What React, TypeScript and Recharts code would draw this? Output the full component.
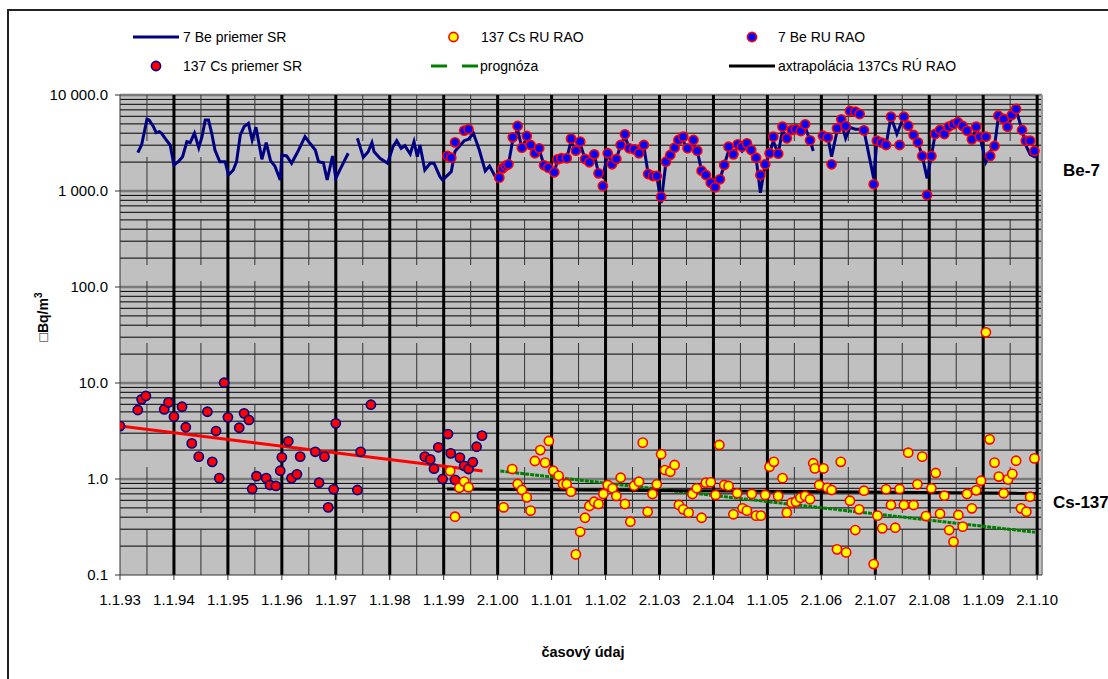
import React from 'react';
import { ComposedChart, Line, Scatter, XAxis, YAxis, CartesianGrid } from 'recharts';

const FONT = '"Liberation Sans", Arial, sans-serif';

// axis ticks
const yearTicks = [1993, 1994, 1995, 1996, 1997, 1998, 1999, 2000, 2001, 2002, 2003, 2004, 2005, 2006, 2007, 2008, 2009, 2010];
const yearLabels = ['1.1.93', '1.1.94', '1.1.95', '1.1.96', '1.1.97', '1.1.98', '1.1.99', '2.1.00', '1.1.01', '1.1.02', '2.1.03', '2.1.04', '1.1.05', '2.1.06', '2.1.07', '2.1.08', '1.1.09', '2.1.10'];
const valueTicks = [0.1, 1, 10, 100, 1000, 10000];
const valueLabels = ['0.1', '1.0', '10.0', '100.0', '1 000.0', '10 000.0'];

// 7 Be priemer SR (monthly average, line)
const beAvgSR: [number, number | null][] = [
  [1993.33, 2506], [1993.40, 3015], [1993.50, 5585], [1993.54, 5495], [1993.62, 4677], [1993.67, 4048], [1993.73, 4150], [1993.77, 3990], [1993.85, 3459], [1993.93, 3015],
  [1994.00, 1866], [1994.08, 2018], [1994.16, 2276], [1994.24, 3265], [1994.30, 3186], [1994.38, 3990], [1994.46, 2825], [1994.52, 3680], [1994.58, 5495], [1994.64, 5495], [1994.70, 3990], [1994.76, 2673], [1994.85, 2018], [1994.95, 2018],
  [1995.01, 1468], [1995.10, 1655], [1995.16, 2018], [1995.23, 3831], [1995.30, 4677], [1995.38, 5070], [1995.45, 3396], [1995.52, 4613], [1995.63, 2138], [1995.71, 3186], [1995.79, 2070], [1995.87, 1820], [1995.97, 1303],
  [1996.00, 2371], [1996.09, 2317], [1996.18, 1945], [1996.28, 2471], [1996.43, 3680], [1996.52, 3141], [1996.62, 2673], [1996.68, 2018], [1996.77, 1972], [1996.84, 1303], [1996.94, 2317],
  [1997.00, 1355], [1997.08, 1683], [1997.23, 2471], [1997.31, null], [1997.40, 3540], [1997.51, 2244], [1997.60, 2565], [1997.67, 3186], [1997.71, 2565], [1997.82, 2193], [1997.96, 1945],
  [1998.06, 2891], [1998.13, 3342], [1998.21, 2786], [1998.28, 2965], [1998.38, 2427], [1998.45, 3265], [1998.51, 2276], [1998.56, 3015], [1998.65, 1655], [1998.75, 1945], [1998.82, 1945], [1998.93, 1409], [1998.98, 1303],
  [1999.14, 1589], [1999.21, 2600], [1999.38, 3342], [1999.46, 3459], [1999.55, 3990], [1999.66, 2673], [1999.77, 1616], [1999.85, 1820], [1999.95, 1433],
  [2000.03, 1324], [2000.09, 1723], [2000.15, 1835], [2000.20, 1897], [2000.28, 3400], [2000.37, 4300], [2000.45, 2825], [2000.54, 3600], [2000.61, 3015], [2000.69, 2472], [2000.77, 2700], [2000.86, 1852], [2000.94, 1700],
  [2001.05, 1566], [2001.11, 2100], [2001.18, 2193], [2001.28, 2193], [2001.36, 3300], [2001.45, 2630], [2001.53, 3100], [2001.62, 2154], [2001.70, 1991], [2001.79, 2411], [2001.87, 1528], [2001.95, 1400],
  [2002.04, 2472], [2002.12, 1897], [2002.20, 2154], [2002.28, 3015], [2002.36, 3700], [2002.44, 2786], [2002.53, 2717], [2002.62, 2472], [2002.71, 2900], [2002.79, 1503], [2002.88, 1433], [2002.95, 1433],
  [2003.03, 750], [2003.12, 2018], [2003.20, 2371], [2003.28, 2825], [2003.35, 3398], [2003.44, 3300], [2003.52, 2786], [2003.63, 3100], [2003.70, 2630], [2003.78, 1627], [2003.86, 1468], [2003.95, 1220],
  [2004.03, 1093], [2004.12, 1324], [2004.20, 1866], [2004.28, 2600], [2004.37, 2411], [2004.45, 2900], [2004.53, 2600], [2004.62, 3000], [2004.70, 2673], [2004.79, 2223], [2004.87, 960], [2004.96, 1897],
  [2005.04, 2472], [2005.11, 3300], [2005.20, 2447], [2005.28, 4300], [2005.36, 3540], [2005.45, 4100], [2005.53, 4200], [2005.62, 4000], [2005.70, 4600], [2005.79, 3375], [2005.85, 2610], [2005.92, null],
  [2006.00, 3900], [2006.03, 3767], [2006.12, 3624], [2006.19, 2277], [2006.29, 4200], [2006.37, 5200], [2006.45, 3540], [2006.53, 4600], [2006.63, 4400], [2006.71, 4400], [2006.79, 4285], [2006.97, 1355],
  [2007.03, 3342], [2007.12, 3186], [2007.20, 3015], [2007.29, 5943], [2007.40, 3926], [2007.53, 5943], [2007.61, 4786], [2007.71, 3831], [2007.79, 3215], [2007.87, 2317], [2007.96, 1355],
  [2008.04, 2317], [2008.11, 3926], [2008.20, 4317], [2008.28, 3926], [2008.36, 4677], [2008.45, 4955], [2008.53, 5200], [2008.62, 4753], [2008.70, 4250], [2008.79, 3453], [2008.87, 4500], [2008.94, 3680],
  [2009.05, 2018], [2009.13, 2600], [2009.21, 2943], [2009.28, 5800], [2009.38, 5623], [2009.45, 4677], [2009.53, 5800], [2009.61, 7000], [2009.72, 4317], [2009.79, 3000], [2009.87, 2400], [2009.95, 2277], [2010.00, 2300],
];

// 7 Be RU RAO (points)
const beRuRao: [number, number][] = [
  [1999.07, 2317], [1999.14, 2223], [1999.21, 3215], [1999.38, 4250], [1999.46, 4395],
  [2000.03, 1376], [2000.09, 1723], [2000.15, 1835], [2000.20, 1897], [2000.28, 3624], [2000.37, 4753], [2000.45, 2825], [2000.54, 3741], [2000.61, 3015], [2000.69, 2472], [2000.77, 2786], [2000.86, 1852], [2000.94, 1749],
  [2001.05, 1566], [2001.11, 2138], [2001.18, 2193], [2001.28, 2193], [2001.36, 3508], [2001.45, 2630], [2001.53, 3265], [2001.62, 2154], [2001.70, 1991], [2001.79, 2411], [2001.87, 1528], [2001.95, 1127],
  [2002.04, 2472], [2002.12, 1897], [2002.20, 2154], [2002.28, 3015], [2002.36, 3896], [2002.44, 2786], [2002.53, 2717], [2002.62, 2472], [2002.71, 3015], [2002.79, 1503], [2002.88, 1433], [2002.95, 1433],
  [2003.03, 872], [2003.12, 2018], [2003.20, 2371], [2003.28, 2825], [2003.35, 3398], [2003.44, 3680], [2003.52, 2786], [2003.63, 3398], [2003.70, 2630], [2003.78, 1627], [2003.86, 1468], [2003.95, 1220],
  [2004.03, 1093], [2004.12, 1324], [2004.20, 1866], [2004.28, 2893], [2004.37, 2411], [2004.45, 3065], [2004.53, 2893], [2004.62, 3139], [2004.70, 2673], [2004.79, 2223], [2004.87, 1468], [2004.96, 1897],
  [2005.04, 2472], [2005.11, 3680], [2005.20, 2447], [2005.28, 4677], [2005.36, 3540], [2005.45, 4317], [2005.53, 4395], [2005.62, 4217], [2005.70, 4955], [2005.79, 3375],
  [2006.03, 3767], [2006.12, 3624], [2006.19, 1897], [2006.29, 4498], [2006.37, 5585], [2006.45, 4753], [2006.53, 6810], [2006.63, 6700], [2006.71, 6340], [2006.79, 4285], [2006.97, 1175],
  [2007.03, 3342], [2007.12, 3186], [2007.20, 3015], [2007.29, 5943], [2007.45, 3015], [2007.53, 5943], [2007.61, 4786], [2007.71, 3831], [2007.79, 3215], [2007.87, 2317], [2007.96, 908],
  [2008.04, 2317], [2008.11, 3926], [2008.20, 4317], [2008.28, 3926], [2008.36, 4677], [2008.45, 4955], [2008.53, 5200], [2008.62, 4753], [2008.70, 4250], [2008.79, 3453], [2008.87, 4677], [2008.94, 3680],
  [2009.05, 3680], [2009.13, 2317], [2009.21, 2943], [2009.28, 6085], [2009.38, 5623], [2009.45, 4677], [2009.53, 6190], [2009.61, 7145], [2009.72, 4317], [2009.79, 3342], [2009.87, 3342], [2009.95, 2610],
];

// 137 Cs priemer SR (points)
const csAvgSR: [number, number][] = [
  [1993.00, 3.56], [1993.33, 5.23], [1993.40, 6.76], [1993.48, 7.32], [1993.82, 5.32], [1993.90, 6.29],
  [1994.00, 4.46], [1994.15, 5.66], [1994.22, 3.46], [1994.33, 2.35], [1994.46, 1.71], [1994.62, 5.02], [1994.71, 1.51], [1994.78, 3.16], [1994.84, 1.02], [1994.93, 10.07],
  [1995.00, 4.39], [1995.21, 3.42], [1995.30, 4.83], [1995.39, 4.12], [1995.45, 0.787], [1995.53, 1.07], [1995.71, 1.02], [1995.78, 0.866], [1995.89, 0.846], [1995.97, 1.22],
  [1996.00, 1.68], [1996.12, 2.47], [1996.18, 1.02], [1996.28, 1.12], [1996.34, 1.71], [1996.62, 1.92], [1996.69, 0.915], [1996.79, 1.71], [1996.86, 0.507], [1996.96, 0.781],
  [1997.00, 3.8], [1997.40, 0.768], [1997.46, 1.92], [1997.65, 5.94],
  [1998.65, 1.71], [1998.75, 1.6], [1998.82, 1.28], [1998.90, 2.14], [1998.98, 1.0],
  [1999.08, 2.94], [1999.13, 1.85], [1999.21, 0.98], [1999.30, 1.67], [1999.38, 1.37], [1999.46, 1.27], [1999.54, 1.5], [1999.61, 2.17], [1999.71, 2.83],
];

// 137 Cs RU RAO (points)
const csRuRao: [number, number][] = [
  [1999.12, 1.21], [1999.21, 0.405], [1999.29, 0.81], [1999.38, 0.94], [1999.46, 0.82],
  [2000.11, 0.507], [2000.27, 1.27], [2000.37, 0.887], [2000.45, 0.768], [2000.54, 0.644], [2000.61, 0.468], [2000.69, 1.54], [2000.79, 2.0], [2000.88, 1.48], [2000.95, 2.49],
  [2001.03, 1.22], [2001.13, 1.08], [2001.21, 0.887], [2001.28, 0.887], [2001.36, 0.738], [2001.45, 0.164], [2001.53, 0.282], [2001.62, 0.395], [2001.70, 0.523], [2001.79, 0.58], [2001.87, 0.549], [2001.96, 0.698],
  [2002.04, 0.866], [2002.13, 0.8], [2002.20, 0.665], [2002.28, 1.03], [2002.36, 0.549], [2002.46, 0.359], [2002.53, 0.851], [2002.62, 0.937], [2002.69, 2.39], [2002.78, 0.456], [2002.87, 0.698], [2002.95, 0.881],
  [2003.03, 1.81], [2003.10, 1.24], [2003.20, 1.19], [2003.28, 1.4], [2003.36, 0.536], [2003.44, 0.483], [2003.54, 0.446], [2003.61, 0.698], [2003.69, 0.8], [2003.78, 0.395], [2003.86, 0.915], [2003.95, 0.924],
  [2004.04, 0.681], [2004.11, 2.26], [2004.20, 0.866], [2004.28, 0.846], [2004.37, 0.429], [2004.44, 0.71], [2004.54, 0.495], [2004.62, 0.468], [2004.71, 0.698], [2004.79, 0.415], [2004.88, 0.415], [2004.96, 0.681],
  [2005.04, 1.34], [2005.12, 1.51], [2005.20, 0.665], [2005.28, 1.02], [2005.36, 0.446], [2005.45, 0.566], [2005.53, 0.58], [2005.61, 0.638], [2005.70, 0.665], [2005.79, 0.615], [2005.85, 1.46], [2005.88, 1.29], [2005.96, 0.866],
  [2006.04, 1.29], [2006.11, 0.81], [2006.19, 0.768], [2006.29, 0.185], [2006.36, 1.51], [2006.46, 0.172], [2006.53, 0.594], [2006.63, 0.294], [2006.70, 0.483], [2006.79, 0.755], [2006.97, 0.13],
  [2007.04, 0.415], [2007.13, 0.306], [2007.20, 0.781], [2007.29, 0.536], [2007.37, 0.311], [2007.45, 0.787], [2007.53, 0.536], [2007.61, 1.88], [2007.71, 0.536], [2007.78, 0.881], [2007.87, 1.71], [2007.94, 0.411],
  [2008.04, 0.8], [2008.12, 1.155], [2008.20, 0.435], [2008.28, 0.67], [2008.37, 0.294], [2008.45, 0.222], [2008.54, 0.422], [2008.62, 0.319], [2008.70, 0.698], [2008.79, 0.495], [2008.87, 0.762], [2008.96, 0.96],
  [2009.05, 33.7], [2009.12, 2.59], [2009.21, 1.48], [2009.29, 1.06], [2009.38, 0.71], [2009.46, 0.99], [2009.54, 1.13], [2009.61, 1.55], [2009.70, 0.495], [2009.80, 0.456], [2009.87, 0.654], [2009.95, 1.64],
];

// trend lines
const csTrendSR: [number, number][] = [[1993.0, 3.56], [1999.72, 1.21]];
const prognoza: [number, number][] = [[2000.05, 1.21], [2009.96, 0.279]];
const extrapolacia: [number, number][] = [[1999.06, 0.787], [2010.0, 0.71]];

const toRows = (pairs: [number, number | null][]) => pairs.map(([year, value]) => ({ year, value }));

// grid helpers (not data)
const majorGrid = [1, 10, 100, 1000, 10000];
const minorGrid = [0.1, 1, 10, 100, 1000].flatMap((d) => [2, 3, 4, 5, 6, 7, 8, 9].map((k) => +(k * d).toPrecision(3)));
const yearGrid = yearTicks.slice(1);
const halfYearGrid = yearTicks.slice(0, -1).map((y) => y + 0.5);

const dotShape = (fill: string, stroke: string) => (p: any) => (
  <circle cx={p.cx} cy={p.cy} r={4.6} fill={fill} stroke={stroke} strokeWidth={1.6} />
);

const legendText: React.CSSProperties = { position: 'absolute', fontSize: 14, lineHeight: '16px', whiteSpace: 'nowrap', color: '#000' };
const sideLabel: React.CSSProperties = { position: 'absolute', fontSize: 17, fontWeight: 'bold', lineHeight: '20px', whiteSpace: 'nowrap' };

const App: React.FC = () => {
  return (
    <div style={{ position: 'fixed', left: 0, top: 0, width: 1108, height: 679, overflow: 'hidden', background: '#fff', fontFamily: FONT }}>
      <div style={{ position: 'absolute', left: 7, top: 9, width: 1300, height: 900, borderLeft: '2px solid #222', borderTop: '2px solid #222' }} />

      <div style={{ position: 'absolute', left: 0, top: 0 }}>
        <ComposedChart width={1108} height={679} margin={{ top: 95, right: 66, bottom: 74, left: 60 }} style={{ fontFamily: FONT }}>
          <CartesianGrid horizontal={false} vertical={false} fill="#C0C0C0" />
          <CartesianGrid vertical={false} horizontalValues={minorGrid} stroke="#000" strokeWidth={1} />
          <CartesianGrid vertical={false} horizontalValues={majorGrid} stroke="#7a7a7a" strokeWidth={2.5} />
          <CartesianGrid horizontal={false} verticalValues={halfYearGrid} stroke="#333" strokeWidth={1} strokeDasharray="46 16" />
          <CartesianGrid horizontal={false} verticalValues={yearGrid} stroke="#000" strokeWidth={3} />
          <CartesianGrid horizontal={false} verticalValues={[2010.09]} stroke="#9a9a9a" strokeWidth={2} />

          <XAxis
            dataKey="year"
            type="number"
            domain={[1993, 2010.09]}
            allowDataOverflow
            ticks={yearTicks}
            interval={0}
            tickFormatter={(v: number) => yearLabels[yearTicks.indexOf(v)] ?? ''}
            height={30}
            tickSize={5}
            tickMargin={14}
            stroke="#333"
            tick={{ fontSize: 15, fill: '#000' }}
          />
          <YAxis
            dataKey="value"
            type="number"
            scale="log"
            domain={[0.1, 10000]}
            allowDataOverflow
            ticks={valueTicks}
            interval={0}
            tickFormatter={(v: number) => valueLabels[valueTicks.indexOf(v)] ?? ''}
            width={60}
            tickSize={5}
            tickMargin={7}
            stroke="#333"
            tick={{ fontSize: 15, fill: '#000' }}
          />

          <Line data={toRows(beAvgSR)} dataKey="value" type="linear" stroke="#000080" strokeWidth={3} dot={false} activeDot={false} connectNulls={false} isAnimationActive={false} />
          <Line data={toRows(csTrendSR)} dataKey="value" type="linear" stroke="#ff0000" strokeWidth={3} dot={false} activeDot={false} isAnimationActive={false} />
          <Line data={toRows(prognoza)} dataKey="value" type="linear" stroke="#008000" strokeWidth={3} strokeDasharray="4 1" dot={false} activeDot={false} isAnimationActive={false} />
          <Line data={toRows(extrapolacia)} dataKey="value" type="linear" stroke="#000" strokeWidth={3} dot={false} activeDot={false} isAnimationActive={false} />

          <Scatter data={toRows(csAvgSR)} dataKey="value" shape={dotShape('#ff0000', '#000080')} isAnimationActive={false} />
          <Scatter data={toRows(csRuRao)} dataKey="value" shape={dotShape('#ffff00', '#ff0000')} isAnimationActive={false} />
          <Scatter data={toRows(beRuRao)} dataKey="value" shape={dotShape('#0000ff', '#ff0000')} isAnimationActive={false} />
        </ComposedChart>
      </div>

      {/* legend */}
      <svg width={1108} height={90} style={{ position: 'absolute', left: 0, top: 0 }}>
        <line x1={133} y1={37} x2={179} y2={37} stroke="#000080" strokeWidth={3} />
        <circle cx={453.5} cy={37} r={4.6} fill="#ffff00" stroke="#ff0000" strokeWidth={1.6} />
        <circle cx={752} cy={37} r={4.6} fill="#0000ff" stroke="#ff0000" strokeWidth={1.6} />
        <circle cx={156} cy={66} r={4.6} fill="#ff0000" stroke="#000080" strokeWidth={1.6} />
        <line x1={431} y1={66} x2={478} y2={66} stroke="#008000" strokeWidth={3} strokeDasharray="16 15" />
        <line x1={729} y1={66} x2={775} y2={66} stroke="#000" strokeWidth={3} />
      </svg>
      <div style={{ ...legendText, left: 183, top: 29 }}>7 Be priemer SR</div>
      <div style={{ ...legendText, left: 481, top: 29 }}>137 Cs RU RAO</div>
      <div style={{ ...legendText, left: 778, top: 29 }}>7 Be RU RAO</div>
      <div style={{ ...legendText, left: 183, top: 58 }}>137 Cs priemer SR</div>
      <div style={{ ...legendText, left: 480, top: 58 }}>prognóza</div>
      <div style={{ ...legendText, left: 778, top: 58 }}>axtrapolácia 137Cs RÚ RAO</div>

      {/* side labels */}
      <div style={{ ...sideLabel, left: 1063, top: 161 }}>Be-7</div>
      <div style={{ ...sideLabel, left: 1053, top: 493 }}>Cs-137</div>

      {/* axis titles */}
      <div style={{ position: 'absolute', left: 583, top: 652, transform: 'translate(-50%, -50%)', fontSize: 14.5, fontWeight: 'bold', whiteSpace: 'nowrap' }}>časový údaj</div>
      <div style={{ position: 'absolute', left: 42, top: 317, transform: 'translate(-50%, -50%) rotate(-90deg)', fontSize: 14, fontWeight: 'bold', whiteSpace: 'nowrap' }}>
        □Bq/m<sup style={{ fontSize: 10 }}>3</sup>
      </div>
    </div>
  );
};

export default App;
